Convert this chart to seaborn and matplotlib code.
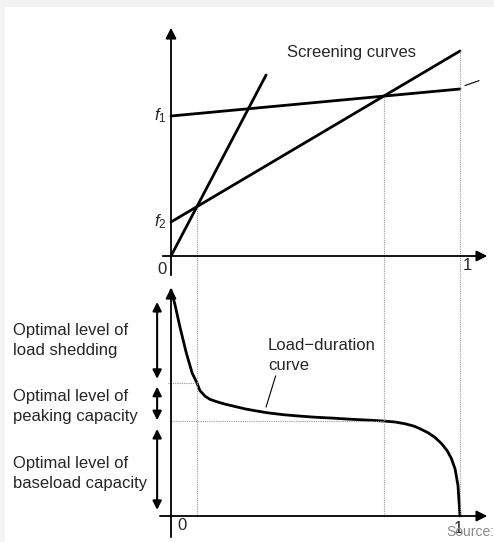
import numpy as np
import pandas as pd
import matplotlib.pyplot as plt
import seaborn as sns
from matplotlib.patches import Rectangle

sns.set_style("white")
plt.rcParams['font.family'] = ['Liberation Sans', 'DejaVu Sans']
plt.rcParams['mathtext.fontset'] = 'custom'
plt.rcParams['mathtext.it'] = 'Liberation Sans:italic'
plt.rcParams['mathtext.rm'] = 'Liberation Sans'

# screening curves (cost vs. capacity factor)
shed_x = [0, 0.329]
shed_y = [0, 0.905]
base_x = [0, 1]
base_y = [0.70, 0.835]
peak_x = [0, 1]
peak_y = [0.17, 1.025]

# load-duration curve (load vs. duration fraction)
dur_x = [0, 0.014, 0.031, 0.052, 0.073, 0.090, 0.100, 0.118, 0.135, 0.160, 0.187,
         0.220, 0.256, 0.295, 0.332, 0.390, 0.446, 0.500, 0.561, 0.610, 0.654,
         0.700, 0.737, 0.775, 0.810, 0.840, 0.862, 0.890, 0.913, 0.935, 0.955,
         0.970, 0.983, 0.993, 1.0]
dur_y = [1.0, 0.934, 0.836, 0.726, 0.633, 0.588, 0.555, 0.530, 0.516, 0.505, 0.495,
         0.485, 0.474, 0.465, 0.457, 0.448, 0.442, 0.437, 0.433, 0.429, 0.426,
         0.423, 0.420, 0.416, 0.408, 0.398, 0.386, 0.368, 0.348, 0.322, 0.290,
         0.255, 0.208, 0.135, 0.0]

side_labels = ["Optimal level of\nload shedding",
               "Optimal level of\npeaking capacity",
               "Optimal level of\nbaseload capacity"]

# crossing points of the screening curves
def crossing(xa, ya, xb, yb):
    ka = (ya[1] - ya[0]) / (xa[1] - xa[0])
    kb = (yb[1] - yb[0]) / (xb[1] - xb[0])
    x = (yb[0] - ya[0]) / (ka - kb)
    return x, ya[0] + ka * x

x1, y1 = crossing(shed_x, shed_y, peak_x, peak_y)
x2, y2 = crossing(base_x, base_y, peak_x, peak_y)
lev1 = np.interp(x1, dur_x, dur_y)
lev2 = np.interp(x2, dur_x, dur_y)

fig = plt.figure(figsize=(4.94, 5.42), dpi=100)
fig.patch.set_facecolor('#f3f3f3')
fig.add_artist(Rectangle((5 / 494, 0), 1, 535 / 542, transform=fig.transFigure,
                         facecolor='white', edgecolor='none', zorder=-1))

ax1 = fig.add_axes([0, 272 / 542, 1, 270 / 542])
ax2 = fig.add_axes([0, 0, 1, 272 / 542])
for ax in (ax1, ax2):
    ax.set_xlim(-171 / 289, 323 / 289)
    ax.axis('off')
ax1.set_ylim(-14 / 200, 256 / 200)
ax2.set_ylim(-26 / 226, 246 / 226)

dot = dict(color='#999999', lw=0.8, ls=(0, (1, 1)))
arrow_axis = dict(arrowstyle='-|>', color='black', lw=1.3, mutation_scale=16)

# ---- top panel: screening curves
for xs, ys in [(shed_x, shed_y), (base_x, base_y), (peak_x, peak_y)]:
    sns.lineplot(x=xs, y=ys, ax=ax1, color='black', lw=2, estimator=None)

ax1.plot([x1, x1], [-1, y1], **dot)
ax1.plot([x2, x2], [-1, y2], **dot)
ax1.plot([1, 1], [-1, peak_y[1]], **dot)
ax1.plot([1.017, 1.066], [0.852, 0.877], color='black', lw=0.8)

ax1.annotate('', xy=(0, 1.155), xytext=(0, -0.11), arrowprops=arrow_axis,
             annotation_clip=False)
ax1.annotate('', xy=(1.104, 0), xytext=(-0.038, 0), arrowprops=arrow_axis,
             annotation_clip=False)

ax1.text(-0.015, base_y[0], '$f_1$', ha='right', va='center', fontsize=12)
ax1.text(-0.015, peak_y[0], '$f_2$', ha='right', va='center', fontsize=12)
ax1.text(-0.031, -0.07, '0', ha='center', va='center', fontsize=12)
ax1.text(1.024, -0.045, '1', ha='center', va='center', fontsize=12)
ax1.text(0.40, 1.02, 'Screening curves', ha='left', va='center', fontsize=12)

# ---- bottom panel: load-duration curve
ld = pd.DataFrame({'duration': dur_x, 'load': dur_y})
sns.lineplot(data=ld, x='duration', y='load', ax=ax2, color='black', lw=2,
             estimator=None, sort=False)

for xv in (x1, x2, 1):
    ax2.plot([xv, xv], [0, 2], **dot)
ax2.plot([-0.01, x1], [lev1, lev1], **dot)
ax2.plot([0, x2], [lev2, lev2], **dot)

ax2.annotate('', xy=(0, 1.022), xytext=(0, -0.106), arrowprops=arrow_axis,
             annotation_clip=False)
ax2.annotate('', xy=(1.104, 0), xytext=(-0.048, 0), arrowprops=arrow_axis,
             annotation_clip=False)

levels = [dur_y[0], lev1, lev2, 0]
pads = [(0.053, 0.018), (0.017, 0.004), (0.035, 0.027)]
label_y = [0.777, 0.486, 0.187]
for i, lab in enumerate(side_labels):
    top = levels[i] - pads[i][0]
    bot = levels[i + 1] + pads[i][1]
    ax2.annotate('', xy=(-0.048, top), xytext=(-0.048, bot),
                 arrowprops=dict(arrowstyle='<|-|>', color='black', lw=1.5,
                                 mutation_scale=13, shrinkA=0, shrinkB=0),
                 annotation_clip=False)
    ax2.text(-0.547, label_y[i], lab, ha='left', va='center', fontsize=12,
             linespacing=1.42)

ax2.text(0.336, 0.71, 'Load\u2212duration\ncurve', ha='left', va='center',
         fontsize=12, linespacing=1.42)
ax2.plot([0.362, 0.329], [0.62, 0.482], color='black', lw=0.8)

ax2.text(0.038, -0.04, '0', ha='center', va='center', fontsize=12)
ax2.text(0.993, -0.055, '1', ha='center', va='center', fontsize=12)
fig.text(446 / 494, 10 / 542, 'Source:', ha='left', va='center', fontsize=10,
         color='#888888')

plt.savefig('out.png', dpi=100)
